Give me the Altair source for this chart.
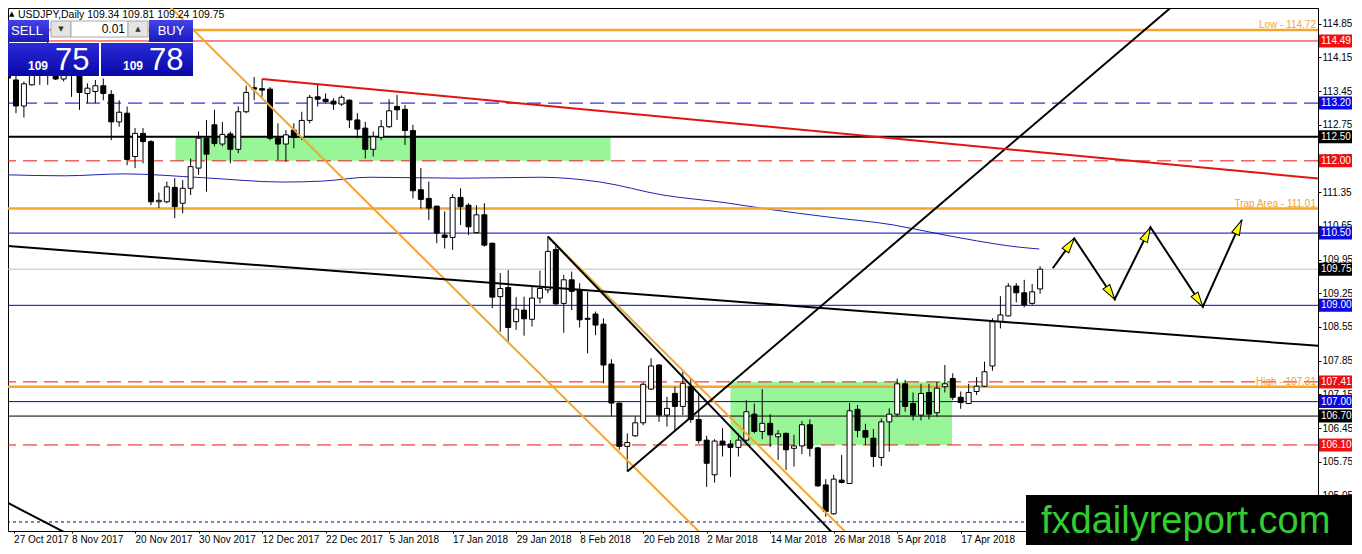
import json
import math

import altair as alt
import pandas as pd

FONT = "Liberation Sans"

DATE_LABELS = [
    "27 Oct 2017", "8 Nov 2017", "20 Nov 2017", "30 Nov 2017", "12 Dec 2017",
    "22 Dec 2017", "5 Jan 2018", "17 Jan 2018", "29 Jan 2018", "8 Feb 2018",
    "20 Feb 2018", "2 Mar 2018", "14 Mar 2018", "26 Mar 2018", "5 Apr 2018",
    "17 Apr 2018",
]
# first label sits on bar 0, nudged just inside the view
DATE_BARS = [0.7, 8, 16, 24, 32, 40, 48, 56, 64, 72, 80, 88, 96, 104, 112, 120]
PRICE_TICKS = [105.05, 105.75, 106.45, 107.15, 107.85, 108.55, 109.25, 109.95,
               110.65, 111.35, 112.05, 112.75, 113.45, 114.15, 114.85]

OPEN = [113.95, 113.68, 113.14, 113.58, 113.95, 114.05, 113.80, 113.70, 113.85, 113.82,
        113.40, 113.44, 113.56, 113.38, 112.81, 112.99, 112.09, 112.57, 112.40, 111.15,
        111.15, 111.45, 111.12, 111.43, 111.85, 112.47, 112.75, 112.35, 112.56, 112.24,
        113.02, 113.52, 113.50, 113.49, 112.47, 112.35, 112.64, 112.49, 112.84, 113.33,
        113.28, 113.24, 113.18, 113.26, 112.85, 112.68, 112.24, 112.49, 112.71, 113.13,
        113.07, 112.63, 111.40, 111.22, 111.06, 110.46, 110.41, 111.24, 111.08, 110.51,
        110.88, 110.29, 109.18, 109.37, 108.66, 108.90, 108.71, 109.15, 109.32, 110.16,
        109.04, 109.53, 109.32, 108.73, 108.82, 108.61, 107.78, 106.97, 106.07, 106.29,
        106.56, 107.26, 107.76, 106.72, 107.17, 106.90, 107.31, 106.63, 106.20, 105.48,
        106.18, 106.12, 106.05, 106.20, 106.74, 106.38, 106.55, 106.27, 106.34, 106.03,
        106.08, 106.52, 106.04, 105.27, 104.67, 105.37, 105.30, 106.84, 106.40, 106.24,
        105.84, 106.58, 106.74, 107.37, 106.96, 106.72, 107.19, 106.77, 107.31, 107.48,
        107.09, 106.96, 107.21, 107.32, 107.74, 108.66, 108.78, 109.40, 109.26, 109.04,
        109.34]
HIGH = [114.25, 113.80, 113.65, 114.05, 114.20, 114.73, 114.00, 113.95, 114.10, 113.95,
        113.61, 113.68, 113.71, 113.47, 113.26, 113.13, 112.68, 112.68, 112.43, 111.34,
        111.57, 111.64, 111.60, 112.05, 112.61, 112.85, 113.06, 112.81, 112.61, 113.13,
        113.56, 113.74, 113.70, 113.53, 112.78, 112.64, 112.78, 113.02, 113.37, 113.58,
        113.40, 113.30, 113.36, 113.28, 112.99, 112.81, 112.61, 112.85, 113.28, 113.37,
        113.16, 112.75, 111.85, 111.57, 111.07, 110.95, 111.31, 111.43, 111.12, 111.08,
        111.12, 110.30, 109.67, 109.73, 109.17, 109.18, 109.42, 109.72, 110.43, 110.23,
        109.63, 109.70, 109.46, 109.28, 108.87, 108.73, 107.88, 106.98, 106.34, 106.69,
        107.40, 107.90, 107.78, 107.10, 107.31, 107.62, 107.48, 107.17, 106.29, 106.22,
        106.45, 106.20, 106.34, 107.03, 106.96, 107.26, 106.74, 106.41, 106.36, 106.31,
        106.60, 106.63, 106.06, 105.39, 105.48, 105.89, 106.97, 106.93, 106.54, 106.43,
        106.65, 106.86, 107.48, 107.45, 107.19, 107.37, 107.37, 107.41, 107.76, 107.59,
        107.21, 107.37, 107.51, 107.83, 108.73, 109.19, 109.46, 109.46, 109.53, 109.44,
        109.81]
LOW = [113.68, 112.99, 112.90, 113.56, 113.58, 113.58, 113.68, 113.65, 113.33, 113.06,
       113.20, 113.20, 113.26, 112.43, 112.71, 111.91, 111.85, 111.95, 111.08, 111.02,
       111.12, 110.81, 110.91, 111.29, 111.71, 111.36, 112.30, 112.30, 111.95, 112.16,
       112.99, 113.26, 113.33, 112.43, 112.02, 111.98, 112.26, 112.43, 112.78, 113.13,
       113.20, 113.06, 113.14, 112.68, 112.47, 112.05, 112.09, 112.43, 112.68, 112.85,
       112.33, 111.22, 111.01, 110.77, 110.29, 110.18, 110.15, 110.67, 110.46, 110.50,
       110.22, 108.94, 108.45, 108.25, 108.49, 108.37, 108.56, 109.04, 109.25, 109.01,
       108.43, 108.90, 108.54, 108.00, 108.38, 107.38, 106.69, 106.00, 105.55, 106.27,
       106.51, 107.24, 106.58, 106.48, 106.41, 106.72, 106.56, 106.13, 105.23, 105.32,
       105.86, 105.44, 105.86, 106.17, 106.34, 106.22, 106.06, 105.79, 105.58, 105.65,
       105.91, 105.86, 105.23, 104.61, 104.65, 105.30, 105.29, 106.26, 106.10, 105.64,
       105.66, 105.96, 106.69, 106.79, 106.61, 106.61, 106.63, 106.69, 107.19, 107.03,
       106.85, 106.95, 107.14, 107.31, 107.64, 108.52, 108.77, 109.06, 108.96, 109.01,
       109.24]
CLOSE = [113.72, 113.14, 113.60, 113.95, 114.05, 114.00, 113.70, 113.78, 113.90, 113.42,
         113.51, 113.56, 113.40, 112.81, 113.01, 112.03, 112.57, 112.40, 111.15, 111.18,
         111.46, 111.05, 111.43, 111.88, 112.47, 112.14, 112.36, 112.55, 112.24, 113.02,
         113.42, 113.49, 113.47, 112.47, 112.35, 112.54, 112.49, 112.84, 113.32, 113.28,
         113.23, 113.18, 113.32, 112.85, 112.66, 112.24, 112.50, 112.71, 113.04, 113.06,
         112.63, 111.38, 111.20, 111.02, 110.50, 110.41, 111.24, 111.05, 110.63, 110.88,
         110.25, 109.17, 109.35, 108.54, 108.92, 108.72, 109.15, 109.35, 110.12, 109.03,
         109.53, 109.29, 108.70, 108.71, 108.59, 107.76, 106.97, 106.07, 106.15, 106.56,
         107.36, 107.74, 106.72, 106.86, 106.90, 107.38, 106.63, 106.19, 105.72, 106.18,
         106.10, 106.05, 106.20, 106.79, 106.38, 106.55, 106.31, 106.33, 106.00, 106.08,
         106.52, 106.03, 105.25, 104.72, 105.39, 105.32, 106.81, 106.40, 106.26, 105.86,
         106.58, 106.74, 107.37, 106.90, 106.72, 107.17, 106.74, 107.28, 107.37, 107.09,
         106.98, 107.19, 107.32, 107.62, 108.66, 108.80, 109.40, 109.26, 109.01, 109.28,
         109.75]

# moving average
MA_BAR = [0, 7.1, 14.6, 24.6, 34.6, 39.6, 45.5, 57.1, 67.1, 74.6, 82.5, 90.4,
          95.6, 103.5, 111.5, 116.75, 122, 127.25, 129.9]
MA_PRICE = [111.71, 111.69, 111.73, 111.65, 111.56, 111.58, 111.66, 111.64, 111.66,
            111.56, 111.29, 111.13, 111.00, 110.83, 110.67, 110.50, 110.34, 110.21, 110.17]

ORANGE_LEVELS = [114.72, 111.01, 107.31]
RED_LEVELS = [114.49]
RED_DASH_LEVELS = [112.00, 107.41, 106.10]
BLUE_LEVELS = [110.50, 109.00, 107.00]
BLUE_DASH_LEVELS = [113.20]
BLACK_THICK_LEVELS = [112.50]
BLACK_LEVELS = [106.70]
BID_LEVELS = [109.75]
DOTTED_LEVELS = [104.50]

NOTE_PRICE = [114.72, 111.01, 107.31]
NOTE_TEXT = ["Low - 114.72", "Trap Area - 111.01", "High - 107.31"]

TAG_PRICE = [114.49, 113.20, 112.50, 112.00, 110.50, 109.75, 109.00, 107.41, 107.00, 106.70, 106.10]
TAG_KIND = ["red", "blue", "black", "red", "blue", "black", "blue", "red", "blue", "black", "red"]

ZONE_START = [21.1, 91.0]
ZONE_END = [75.9, 118.9]
ZONE_LOW = [112.00, 106.10]
ZONE_HIGH = [112.50, 107.41]

TREND_KIND = ["orange", "orange", "black", "black", "black", "black", "red"]
TREND_BAR1 = [16.8, 68.0, 68.0, 78.0, -2.0, -2.0, 32.0]
TREND_PRICE1 = [115.79, 110.43, 110.43, 105.55, 110.255, 105.065, 113.70]
TREND_BAR2 = [90.1, 108.5, 106.6, 150.0, 166.0, 10.0, 166.0]
TREND_PRICE2 = [103.80, 103.80, 103.80, 115.68, 108.147, 104.04, 111.62]

PATH_BAR = [131.6, 134.3, 139.4, 143.9, 150.5, 155.4]
PATH_PRICE = [109.77, 110.39, 109.125, 110.62, 108.97, 110.77]

ASK = 109.78

W, H = 1310, 523
X_DOMAIN = [0.625, 164.375]
Y_DOMAIN = [104.313, 115.175]
PX_PER_BAR = W / (X_DOMAIN[1] - X_DOMAIN[0])
PX_PER_YEN = H / (Y_DOMAIN[1] - Y_DOMAIN[0])

ORANGE = "#f5a42c"
RED = "#ee1111"
BLUE = "#0000d8"
KIND_COLOR = {"orange": ORANGE, "red": "#e31313", "black": "#000000", "blue": BLUE}
TAG_COLOR = {"red": RED, "blue": "#0a0ae0", "black": "#000000"}

xs = alt.Scale(domain=X_DOMAIN, nice=False, zero=False)
ys = alt.Scale(domain=Y_DOMAIN, nice=False, zero=False)
x_axis = alt.Axis(
    values=DATE_BARS,
    labelExpr=f"{json.dumps(DATE_LABELS)}[round(datum.value / 8)]",
    labelAlign="left", labelPadding=1, tickSize=2, grid=False, title=None,
    labelOverlap=False, labelFlush=False,
)
y_axis = alt.Axis(
    orient="right", values=PRICE_TICKS, format=".2f", tickSize=3, labelPadding=1,
    grid=False, title=None, labelOverlap=False, labelFlush=False,
)


def bx(field):
    return alt.X(field, type="quantitative", scale=xs, axis=x_axis)


def py(field):
    return alt.Y(field, type="quantitative", scale=ys, axis=y_axis)


ONE = pd.DataFrame({"k": [0]})


def box(x1, y1, x2, y2, fill, stroke=None):
    style = {"fill": fill}
    if stroke:
        style.update(stroke=stroke, strokeWidth=1)
    return alt.Chart(ONE).mark_rect(**style).encode(
        x=alt.value(x1), x2=alt.value(x2), y=alt.value(y1), y2=alt.value(y2)
    )


def label(x, y, text, size=11, color="black", align="left", weight="normal",
          baseline="alphabetic", font=FONT):
    return alt.Chart(ONE).mark_text(
        text=text, fontSize=size, color=color, align=align, fontWeight=weight,
        baseline=baseline, font=font,
    ).encode(x=alt.value(x), y=alt.value(y))


def levels(prices, color, width=1, dash=None):
    style = {"color": color, "strokeWidth": width}
    if dash:
        style["strokeDash"] = dash
    return alt.Chart(pd.DataFrame({"price": prices})).mark_rule(**style).encode(y=py("price"))


# ---- data frames
candles = pd.DataFrame({"bar": range(len(OPEN)), "open": OPEN, "high": HIGH,
                        "low": LOW, "close": CLOSE})
candles["fill"] = ["#ffffff" if c >= o else "#000000" for o, c in zip(OPEN, CLOSE)]

zones = pd.DataFrame({"b1": ZONE_START, "b2": ZONE_END, "lo": ZONE_LOW, "hi": ZONE_HIGH})
ma = pd.DataFrame({"bar": MA_BAR, "price": MA_PRICE})
trends = pd.DataFrame({"b1": TREND_BAR1, "p1": TREND_PRICE1, "b2": TREND_BAR2, "p2": TREND_PRICE2,
                       "color": [KIND_COLOR[k] for k in TREND_KIND]})
path = pd.DataFrame({"bar": PATH_BAR, "price": PATH_PRICE, "order": range(len(PATH_BAR))})

heads = []
for b0, p0, b1, p1 in zip(PATH_BAR[:-1], PATH_PRICE[:-1], PATH_BAR[1:], PATH_PRICE[1:]):
    dx = (b1 - b0) * PX_PER_BAR
    dy = -(p1 - p0) * PX_PER_YEN
    heads.append({"bar": b1, "price": p1, "angle": math.degrees(math.atan2(dx, -dy)) % 360})
heads = pd.DataFrame(heads)

notes = pd.DataFrame({"price": NOTE_PRICE, "text": NOTE_TEXT})
tags = pd.DataFrame({"price": TAG_PRICE, "color": [TAG_COLOR[k] for k in TAG_KIND]})
tags["top"] = tags["price"] + 6.5 / PX_PER_YEN
tags["bottom"] = tags["price"] - 6.5 / PX_PER_YEN
tags["text"] = tags["price"].map("{:.2f}".format)

# ---- chart layers
zone_layer = alt.Chart(zones).mark_rect(color="#98f598").encode(
    x=bx("b1"), x2="b2", y=py("lo"), y2="hi"
)
ma_layer = alt.Chart(ma).mark_line(color="#2020b0", strokeWidth=1, interpolate="monotone").encode(
    x=bx("bar"), y=py("price")
)
level_layers = [
    levels(BID_LEVELS, "#c0c0c0"),
    levels(DOTTED_LEVELS, "#000080", dash=[3, 3]),
    levels(RED_LEVELS, RED),
    levels(RED_DASH_LEVELS, RED, dash=[14, 7]),
    levels(BLUE_LEVELS, BLUE),
    levels(BLUE_DASH_LEVELS, BLUE, dash=[14, 7]),
    levels(BLACK_LEVELS, "#000000"),
    levels(BLACK_THICK_LEVELS, "#000000", width=2),
    levels(ORANGE_LEVELS, ORANGE, width=2.5),
]
wicks = alt.Chart(candles).mark_rule(color="black", strokeWidth=1).encode(
    x=bx("bar"), y=py("low"), y2="high"
)
bodies = alt.Chart(candles).mark_bar(width=5, stroke="black", strokeWidth=1).encode(
    x=bx("bar"), y=py("open"), y2="close", fill=alt.Fill("fill:N", scale=None)
)
trend_layer = alt.Chart(trends).mark_rule(strokeWidth=2, clip=True).encode(
    x=bx("b1"), x2="b2", y=py("p1"), y2="p2", color=alt.Color("color:N", scale=None)
)
path_layer = alt.Chart(path).mark_line(color="black", strokeWidth=2).encode(
    x=bx("bar"), y=py("price"), order="order:Q"
)
head_layer = alt.Chart(heads).mark_point(
    shape="M0,0L0.55,2L-0.55,2Z", filled=True, color="#ffff00", stroke="black",
    strokeWidth=1, size=225, opacity=1,
).encode(x=bx("bar"), y=py("price"), angle=alt.Angle("angle:Q", scale=None))
note_layer = alt.Chart(notes).mark_text(
    align="right", baseline="alphabetic", dy=-2, fontSize=10, font=FONT, color=ORANGE
).encode(x=alt.value(W - 2), y=py("price"), text="text:N")
tag_box = alt.Chart(tags).mark_rect().encode(
    x=alt.value(W + 1), x2=alt.value(W + 34), y=py("top"), y2="bottom",
    color=alt.Color("color:N", scale=None),
)
tag_text = alt.Chart(tags).mark_text(
    align="left", baseline="middle", fontSize=10, font=FONT, color="white"
).encode(x=alt.value(W + 3), y=py("price"), text="text:N")

# ---- one-click trading panel and symbol caption
btn = alt.Gradient(gradient="linear", x1=0, y1=0, x2=0, y2=1,
                   stops=[alt.GradientStop(color="#4444e6", offset=0),
                          alt.GradientStop(color="#1818c0", offset=1)])
big = alt.Gradient(gradient="linear", x1=0, y1=0, x2=0, y2=1,
                   stops=[alt.GradientStop(color="#2a2ad8", offset=0),
                          alt.GradientStop(color="#0808a8", offset=1)])
bid_big, bid_small = f"{CLOSE[-1]:.2f}".split(".")
ask_big, ask_small = f"{ASK:.2f}".split(".")
caption = "USDJPY,Daily  " + " ".join(f"{v:.2f}" for v in (OPEN[-1], HIGH[-1], LOW[-1], CLOSE[-1]))
panel = [
    box(0, 12, 41, 34, btn),
    box(141, 12, 185, 34, btn),
    box(43, 13, 63, 29, "#e4e4e4", "#a8a8a8"),
    box(63, 13, 120, 29, "#ffffff", "#a8a8a8"),
    box(120, 13, 140, 29, "#e4e4e4", "#a8a8a8"),
    box(0, 35, 91, 68, big),
    box(93, 35, 185, 68, big),
    label(19, 23, "SELL", size=13, color="white", align="center", baseline="middle"),
    label(163, 23, "BUY", size=13, color="white", align="center", baseline="middle"),
    label(117, 21, "0.01", size=12, align="right", baseline="middle"),
    label(53, 21, "▼", size=7, color="#333333", align="center", baseline="middle", font="DejaVu Sans"),
    label(130, 21, "▲", size=7, color="#333333", align="center", baseline="middle", font="DejaVu Sans"),
    label(20, 62, bid_big, size=12, color="white", weight="bold"),
    label(47, 62, bid_small, size=31, color="white"),
    label(115, 62, ask_big, size=12, color="white", weight="bold"),
    label(141, 62, ask_small, size=31, color="white"),
    label(1, 6, "▲", size=7, baseline="middle", font="DejaVu Sans"),
    label(10, 10, caption, size=10.5, baseline="alphabetic"),
]

watermark = [
    box(1018, 487, W + 40, H + 20, "#000000"),
    label(1033, 525, "fxdailyreport.com", size=38, color="#33cc33"),
]

chart = (
    alt.layer(
        zone_layer, ma_layer, *level_layers, wicks, bodies, trend_layer, path_layer,
        head_layer, note_layer, tag_box, tag_text, *panel, *watermark,
    )
    .properties(
        width=W, height=H,
        autosize=alt.AutoSizeParams(type="none"),
        padding={"left": 0, "top": 0, "right": 34, "bottom": 14},
        background="white",
    )
    .configure_view(stroke="black", strokeWidth=1)
    .configure_axis(
        domainColor="black", tickColor="black", labelColor="black",
        labelFont=FONT, labelFontSize=10,
    )
)

chart.save("out.html", embed_options={"renderer": "svg", "actions": False})
